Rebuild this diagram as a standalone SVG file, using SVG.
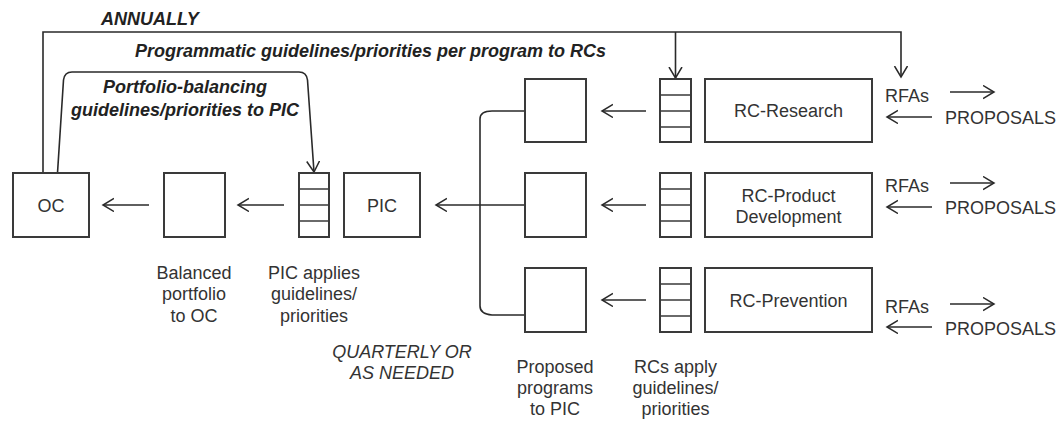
<svg xmlns="http://www.w3.org/2000/svg" width="1058" height="421" viewBox="0 0 1058 421">
<defs>
<marker id="ah" markerUnits="userSpaceOnUse" markerWidth="14" markerHeight="16" refX="11" refY="7" orient="auto">
<path d="M0,0.5 L11,7 L0,13.5" fill="none" stroke="#2a2a2a" stroke-width="1.5"/>
</marker>
<style>
.box{fill:#fff;stroke:#3a3a3a;stroke-width:2}
.sec{fill:none;stroke:#3a3a3a;stroke-width:1.6}
.ln{fill:none;stroke:#2a2a2a;stroke-width:1.6}
.arr{fill:none;stroke:#2a2a2a;stroke-width:1.6;marker-end:url(#ah)}
text{font-family:"Liberation Sans",Arial,sans-serif;font-size:18px;fill:#333}
.c{text-anchor:middle}
.bi{font-weight:bold;font-style:italic;fill:#222}
.it{font-style:italic}
</style>
</defs>

<g id="connectors">
<path class="arr" d="M43,173 L43,32 L901,32 L901,77"/>
<path class="arr" d="M675.5,32 L675.5,78"/>
<path class="arr" d="M57.5,173 L63.5,80 Q64.5,72 72,72 L299,72 Q306.5,72 307.5,80 L314,172"/>
<path class="arr" d="M149,205 L103,205"/>
<path class="arr" d="M284,205 L238,205"/>
<path class="arr" d="M525,205 L436,205"/>
<path class="ln" d="M525,111 L492,111 Q480,111 480,119 L480,306 Q480,314 492,315 L525,315"/>
<path class="arr" d="M646,111 L602,111"/>
<path class="arr" d="M646,205 L602,205"/>
<path class="arr" d="M646,300 L602,300"/>
<path class="arr" d="M950,92 L994,92"/>
<path class="arr" d="M932,117 L887,117"/>
<path class="arr" d="M950,183 L994,183"/>
<path class="arr" d="M932,207 L887,207"/>
<path class="arr" d="M950,304 L994,304"/>
<path class="arr" d="M932,327 L887,327"/>
</g>

<g id="oc">
<rect class="box" x="13" y="173" width="76" height="64"/>
<text class="c" x="51" y="212">OC</text>
</g>

<g id="balanced">
<rect class="box" x="164" y="173" width="61" height="64"/>
<text class="c" x="194" y="279">Balanced</text>
<text class="c" x="194" y="300">portfolio</text>
<text class="c" x="194" y="322">to OC</text>
</g>

<g id="pic-stack">
<rect class="box" x="299" y="173" width="30" height="64"/>
<path class="sec" d="M299,189 H329 M299,205 H329 M299,221 H329"/>
<text class="c" x="314" y="279">PIC applies</text>
<text class="c" x="314" y="300">guidelines/</text>
<text class="c" x="314" y="322">priorities</text>
</g>

<g id="pic">
<rect class="box" x="344" y="173" width="76" height="64"/>
<text class="c" x="382" y="212">PIC</text>
</g>

<g id="proposed-1">
<rect class="box" x="525" y="79" width="61" height="63"/>
</g>
<g id="proposed-2">
<rect class="box" x="525" y="173" width="61" height="64"/>
</g>
<g id="proposed-3">
<rect class="box" x="525" y="268" width="61" height="64"/>
<text class="c" x="555" y="373">Proposed</text>
<text class="c" x="555" y="394">programs</text>
<text class="c" x="555" y="415">to PIC</text>
</g>

<g id="rc-stack-1">
<rect class="box" x="660" y="79" width="31" height="63"/>
<path class="sec" d="M660,95 H691 M660,111 H691 M660,127 H691"/>
</g>
<g id="rc-stack-2">
<rect class="box" x="660" y="173" width="31" height="64"/>
<path class="sec" d="M660,189 H691 M660,205 H691 M660,221 H691"/>
</g>
<g id="rc-stack-3">
<rect class="box" x="660" y="268" width="31" height="64"/>
<path class="sec" d="M660,284 H691 M660,300 H691 M660,316 H691"/>
<text class="c" x="675.5" y="373">RCs apply</text>
<text class="c" x="675.5" y="394">guidelines/</text>
<text class="c" x="675.5" y="415">priorities</text>
</g>

<g id="rc-research">
<rect class="box" x="705" y="79" width="167" height="63"/>
<text class="c" x="788.5" y="117">RC-Research</text>
</g>
<g id="rc-product">
<rect class="box" x="705" y="173" width="167" height="64"/>
<text class="c" x="788.5" y="202">RC-Product</text>
<text class="c" x="788.5" y="223">Development</text>
</g>
<g id="rc-prevention">
<rect class="box" x="705" y="268" width="167" height="64"/>
<text class="c" x="788.5" y="307">RC-Prevention</text>
</g>

<g id="rfa-labels">
<text x="885" y="102">RFAs</text>
<text x="945" y="124">PROPOSALS</text>
<text x="885" y="192">RFAs</text>
<text x="945" y="214">PROPOSALS</text>
<text x="885" y="313">RFAs</text>
<text x="945" y="335">PROPOSALS</text>
</g>

<g id="labels">
<text class="bi" x="101" y="25">ANNUALLY</text>
<text class="bi" x="135" y="57">Programmatic guidelines/priorities per program to RCs</text>
<text class="bi c" x="185" y="93">Portfolio-balancing</text>
<text class="bi c" x="185" y="116">guidelines/priorities to PIC</text>
<text class="it c" x="402" y="358">QUARTERLY OR</text>
<text class="it c" x="402" y="379">AS NEEDED</text>
</g>
</svg>
